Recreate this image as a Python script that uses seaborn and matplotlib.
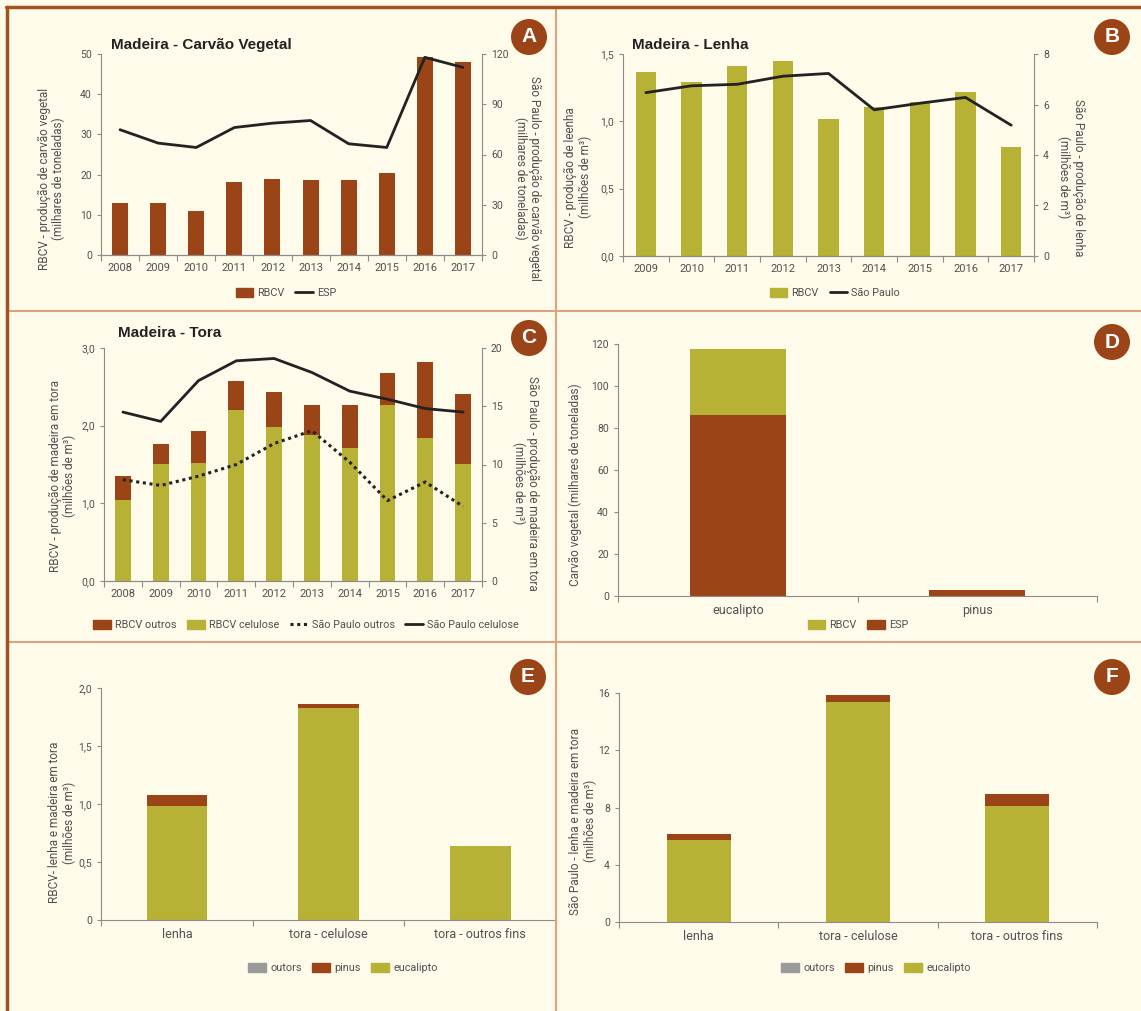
import numpy as np
import matplotlib
matplotlib.use('Agg')
import matplotlib.pyplot as plt
from matplotlib.ticker import FuncFormatter, FixedLocator
from matplotlib.lines import Line2D
from matplotlib.patches import Patch, Ellipse
import seaborn as sns

# --- dados ---
anos_a = ['2008', '2009', '2010', '2011', '2012', '2013', '2014', '2015', '2016', '2017']
carvao_rbcv = [13.0, 12.9, 11.0, 18.1, 19.0, 18.6, 18.6, 20.5, 49.3, 48.0]
carvao_esp = [74.8, 66.8, 64.2, 76.1, 78.7, 80.3, 66.4, 64.2, 118.0, 112.0]

anos_b = ['2009', '2010', '2011', '2012', '2013', '2014', '2015', '2016', '2017']
lenha_rbcv = [1.37, 1.29, 1.41, 1.45, 1.02, 1.11, 1.14, 1.22, 0.81]
lenha_sp = [6.47, 6.74, 6.80, 7.12, 7.23, 5.79, 6.05, 6.28, 5.18]

anos_c = anos_a
tora_rbcv_celulose = [1.04, 1.51, 1.52, 2.20, 1.98, 1.88, 1.71, 2.26, 1.84, 1.51]
tora_rbcv_outros = [0.31, 0.26, 0.41, 0.38, 0.45, 0.38, 0.55, 0.42, 0.98, 0.90]
tora_sp_celulose = [14.5, 13.7, 17.2, 18.9, 19.1, 17.9, 16.3, 15.6, 14.8, 14.5]
tora_sp_outros = [8.7, 8.2, 9.0, 10.0, 11.8, 12.9, 10.2, 6.9, 8.5, 6.4]

especies = ['eucalipto', 'pinus']
carvao_esp_especie = [86.0, 2.8]
carvao_rbcv_especie = [31.5, 0.0]

usos = ['lenha', 'tora - celulose', 'tora - outros fins']
rbcv_eucalipto = [0.98, 1.83, 0.64]
rbcv_pinus = [0.10, 0.03, 0.0]
rbcv_outros = [0.0, 0.0, 0.0]
sp_eucalipto = [5.75, 15.4, 8.1]
sp_pinus = [0.40, 0.45, 0.85]
sp_outros = [0.0, 0.0, 0.0]

# --- estilo ---
FUNDO = '#FEFBEA'
MARROM = '#9B4417'
OLIVA = '#B7B136'
CINZA = '#9A9A9A'
LINHA = '#222222'
EIXO = '#8C8C8C'
TEXTO = '#505050'

sns.set_theme(style='ticks')
plt.rcParams['font.family'] = ['Roboto', 'DejaVu Sans']
plt.rcParams['axes.edgecolor'] = EIXO
plt.rcParams['axes.linewidth'] = 0.8

W, H = 1141, 1011
fig = plt.figure(figsize=(W / 100, H / 100), dpi=100, facecolor=FUNDO)
BAR = dict(saturation=1, linewidth=0, edgecolor='none')


def box(l, t, r, b):
    return [l / W, 1 - b / H, (r - l) / W, (b - t) / H]


def virgula(dec, zero_int=False):
    def f(v, pos):
        if zero_int and v == 0:
            return '0'
        return f'{v:.{dec}f}'.replace('.', ',')
    return FuncFormatter(f)


def estilo(ax, n, cat_size=8):
    ax.set_facecolor('none')
    ax.set_xlim(-0.5, n - 0.5)
    for s in ['top', 'right']:
        ax.spines[s].set_visible(False)
    ax.tick_params(axis='x', which='major', length=0, labelsize=cat_size, colors=TEXTO, pad=6)
    ax.xaxis.set_minor_locator(FixedLocator(np.arange(n + 1) - 0.5))
    ax.tick_params(axis='x', which='minor', length=4, color=EIXO, width=0.8)
    ax.tick_params(axis='y', length=3, labelsize=7.5, colors=TEXTO, color=EIXO, width=0.8)
    ax.set_xlabel('')


def eixo_dir(ax):
    ax2 = ax.twinx()
    ax2.set_facecolor('none')
    ax2.spines['top'].set_visible(False)
    ax2.spines['left'].set_visible(False)
    ax2.tick_params(axis='y', length=3, labelsize=7.5, colors=TEXTO, color=EIXO, width=0.8)
    return ax2


def rot_esq(ax, txt, x, y):
    ax.set_ylabel(txt, fontsize=8.5, color=TEXTO, linespacing=1.1, va='center', ha='center')
    ax.yaxis.set_label_coords(x, y)


def rot_dir(ax, txt, x, y):
    ax.set_ylabel(txt, fontsize=8.5, color=TEXTO, linespacing=1.1, rotation=270, va='center', ha='center')
    ax.yaxis.set_label_coords(x, y)


def selo(x, y, letra):
    fig.add_artist(Ellipse((x / W, 1 - y / H), 36 / W, 36 / H, transform=fig.transFigure,
                           facecolor=MARROM, edgecolor='none'))
    fig.text(x / W, 1 - y / H, letra, color='white', fontsize=15, fontweight='bold',
             ha='center', va='center', family=['Liberation Sans', 'DejaVu Sans'])


def titulo(x, y, txt):
    fig.text(x / W, 1 - y / H, txt, fontsize=11, fontweight='bold', color='#222222',
             ha='left', va='center', family=['Liberation Sans', 'DejaVu Sans'])


def legenda(x, y, handles, labels):
    fig.legend(handles, labels, loc='center', bbox_to_anchor=(x / W, 1 - y / H), ncol=len(handles),
               frameon=False, fontsize=7.8, handlelength=1.6, handleheight=0.9, handletextpad=0.4,
               columnspacing=1.0, labelcolor=TEXTO)


# --- A: carvao vegetal ---
axA = fig.add_axes(box(101, 54, 482, 255))
sns.barplot(x=anos_a, y=carvao_rbcv, color=MARROM, width=0.42, ax=axA, **BAR)
axA.set_ylim(0, 50)
axA.set_yticks([0, 10, 20, 30, 40, 50])
estilo(axA, len(anos_a))
axA2 = eixo_dir(axA)
sns.lineplot(x=np.arange(len(anos_a)), y=carvao_esp, color=LINHA, linewidth=2, ax=axA2)
axA2.set_ylim(0, 120)
axA2.set_yticks([0, 30, 60, 90, 120])
axA.set_xlim(-0.5, len(anos_a) - 0.5)
rot_esq(axA, 'RBCV - produção de carvão vegetal\n(milhares de toneladas)', -0.13, 0.38)
rot_dir(axA2, 'São Paulo - produção de carvão vegetal\n(milhares de toneladas)', 1.12, 0.38)
titulo(111, 45, 'Madeira - Carvão Vegetal')
selo(529, 37, 'A')
legenda(286, 293, [Patch(color=MARROM), Line2D([], [], color=LINHA, lw=2)], ['RBCV', 'ESP'])

# --- B: lenha ---
axB = fig.add_axes(box(623, 54, 1034, 256))
sns.barplot(x=anos_b, y=lenha_rbcv, color=OLIVA, width=0.45, ax=axB, **BAR)
axB.set_ylim(0, 1.5)
axB.set_yticks([0, 0.5, 1.0, 1.5])
axB.yaxis.set_major_formatter(virgula(1))
estilo(axB, len(anos_b))
axB2 = eixo_dir(axB)
sns.lineplot(x=np.arange(len(anos_b)), y=lenha_sp, color=LINHA, linewidth=2, ax=axB2)
axB2.set_ylim(0, 8)
axB2.set_yticks([0, 2, 4, 6, 8])
axB.set_xlim(-0.5, len(anos_b) - 0.5)
rot_esq(axB, 'RBCV - produção de leenha\n(milhões de m³)', -0.11, 0.39)
rot_dir(axB2, 'São Paulo - produção de lenha\n(milhões de m³)', 1.09, 0.39)
titulo(632, 45, 'Madeira - Lenha')
selo(1112, 37, 'B')
legenda(835, 293, [Patch(color=OLIVA), Line2D([], [], color=LINHA, lw=2)], ['RBCV', 'São Paulo'])

# --- C: tora ---
axC = fig.add_axes(box(104, 348, 482, 581))
tora_total = np.array(tora_rbcv_celulose) + np.array(tora_rbcv_outros)
sns.barplot(x=anos_c, y=tora_total, color=MARROM, width=0.42, ax=axC, **BAR)
sns.barplot(x=anos_c, y=tora_rbcv_celulose, color=OLIVA, width=0.42, ax=axC, **BAR)
axC.set_ylim(0, 3.0)
axC.set_yticks([0, 1.0, 2.0, 3.0])
axC.yaxis.set_major_formatter(virgula(1))
estilo(axC, len(anos_c))
axC2 = eixo_dir(axC)
sns.lineplot(x=np.arange(len(anos_c)), y=tora_sp_outros, color=LINHA, linewidth=2.2,
             linestyle=(0, (1, 1.2)), ax=axC2)
sns.lineplot(x=np.arange(len(anos_c)), y=tora_sp_celulose, color=LINHA, linewidth=2, ax=axC2)
axC2.set_ylim(0, 20)
axC2.set_yticks([0, 5, 10, 15, 20])
axC.set_xlim(-0.5, len(anos_c) - 0.5)
rot_esq(axC, 'RBCV - produção de madeira em tora\n(milhões de m³)', -0.11, 0.45)
rot_dir(axC2, 'São Paulo - produção de madeira em tora\n(milhões de m³)', 1.115, 0.42)
titulo(118, 333, 'Madeira - Tora')
selo(529, 338, 'C')
legenda(306, 625,
        [Patch(color=MARROM), Patch(color=OLIVA),
         Line2D([], [], color=LINHA, lw=2.2, linestyle=(0, (1, 1.2))), Line2D([], [], color=LINHA, lw=2)],
        ['RBCV outros', 'RBCV celulose', 'São Paulo outros', 'São Paulo celulose'])

# --- D: carvao por especie ---
axD = fig.add_axes(box(618, 344, 1097, 596))
carvao_total = np.array(carvao_esp_especie) + np.array(carvao_rbcv_especie)
sns.barplot(x=especies, y=carvao_total, color=OLIVA, width=0.4, ax=axD, **BAR)
sns.barplot(x=especies, y=carvao_esp_especie, color=MARROM, width=0.4, ax=axD, **BAR)
axD.set_ylim(0, 120)
axD.set_yticks([0, 20, 40, 60, 80, 100, 120])
estilo(axD, len(especies), cat_size=9)
rot_esq(axD, 'Carvão vegetal (milhares de toneladas)', -0.09, 0.44)
selo(1112, 342, 'D')
legenda(858, 625, [Patch(color=OLIVA), Patch(color=MARROM)], ['RBCV', 'ESP'])

# --- E: RBCV por especie ---
axE = fig.add_axes(box(101, 688, 556, 920))
e_euc = np.array(rbcv_eucalipto)
e_pin = e_euc + np.array(rbcv_pinus)
e_out = e_pin + np.array(rbcv_outros)
sns.barplot(x=usos, y=e_out, color=CINZA, width=0.4, ax=axE, **BAR)
sns.barplot(x=usos, y=e_pin, color=MARROM, width=0.4, ax=axE, **BAR)
sns.barplot(x=usos, y=e_euc, color=OLIVA, width=0.4, ax=axE, **BAR)
axE.set_ylim(0, 2.0)
axE.set_yticks([0, 0.5, 1.0, 1.5, 2.0])
axE.yaxis.set_major_formatter(virgula(1, zero_int=True))
estilo(axE, len(usos), cat_size=9)
rot_esq(axE, 'RBCV- lenha e madeira em tora\n(milhões de m³)', -0.086, 0.42)
selo(528, 677, 'E')
legenda(343, 968, [Patch(color=CINZA), Patch(color=MARROM), Patch(color=OLIVA)],
        ['outors', 'pinus', 'eucalipto'])

# --- F: Sao Paulo por especie ---
axF = fig.add_axes(box(619, 693, 1097, 922))
f_euc = np.array(sp_eucalipto)
f_pin = f_euc + np.array(sp_pinus)
f_out = f_pin + np.array(sp_outros)
sns.barplot(x=usos, y=f_out, color=CINZA, width=0.4, ax=axF, **BAR)
sns.barplot(x=usos, y=f_pin, color=MARROM, width=0.4, ax=axF, **BAR)
sns.barplot(x=usos, y=f_euc, color=OLIVA, width=0.4, ax=axF, **BAR)
axF.set_ylim(0, 16)
axF.set_yticks([0, 4, 8, 12, 16])
estilo(axF, len(usos), cat_size=9)
rot_esq(axF, 'São Paulo - lenha e madeira em tora\n(milhões de m³)', -0.075, 0.44)
selo(1112, 677, 'F')
legenda(876, 968, [Patch(color=CINZA), Patch(color=MARROM), Patch(color=OLIVA)],
        ['outors', 'pinus', 'eucalipto'])

# --- molduras ---
DIV = '#DCA47E'
BORDA = '#A4521F'
fig.add_artist(Line2D([556 / W, 556 / W], [0, 1 - 8 / H], color=DIV, lw=1.5, transform=fig.transFigure))
fig.add_artist(Line2D([8 / W, 1], [1 - 311 / H, 1 - 311 / H], color=DIV, lw=1.5, transform=fig.transFigure))
fig.add_artist(Line2D([8 / W, 1], [1 - 642 / H, 1 - 642 / H], color=DIV, lw=1.5, transform=fig.transFigure))
fig.add_artist(Line2D([7 / W, 7 / W], [0, 1 - 7 / H], color=BORDA, lw=2.5, transform=fig.transFigure))
fig.add_artist(Line2D([6 / W, 1], [1 - 7 / H, 1 - 7 / H], color=BORDA, lw=2.5, transform=fig.transFigure))

fig.savefig('out.png', dpi=100, facecolor=FUNDO)
